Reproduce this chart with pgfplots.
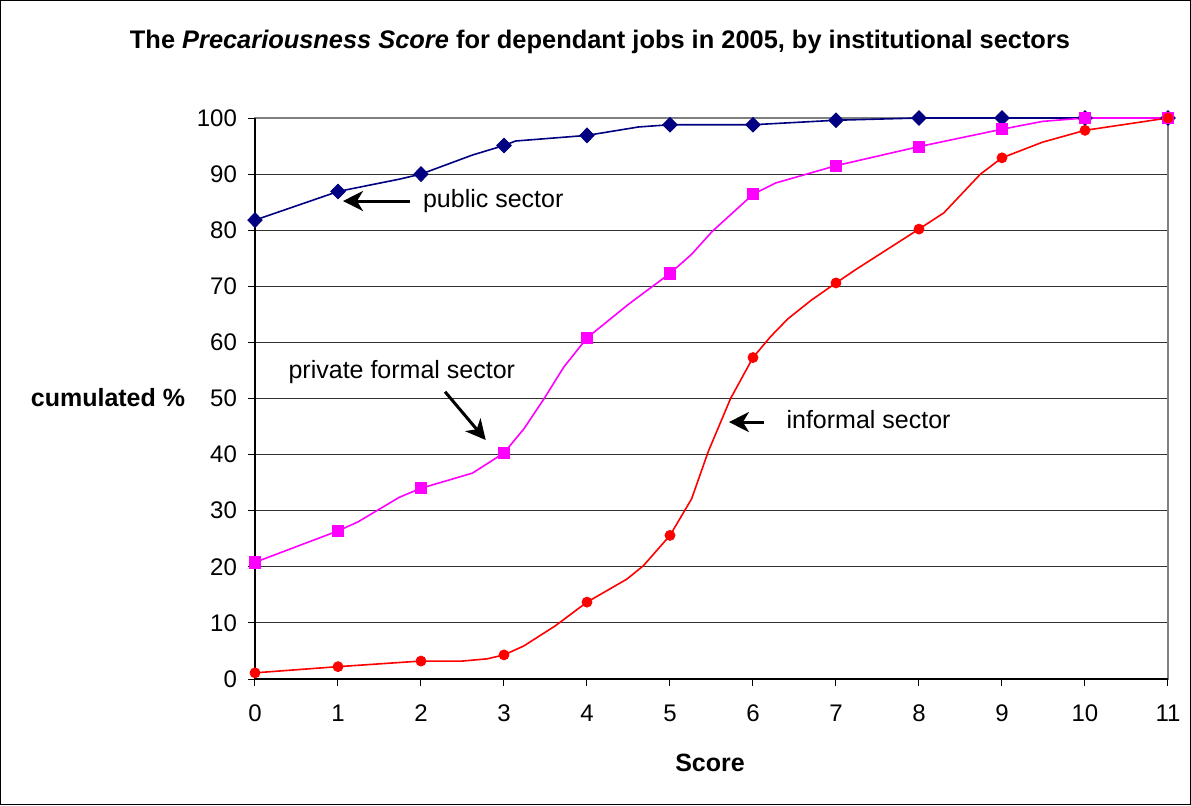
\documentclass[border=0pt]{standalone}
\usepackage{fontspec}
\setmainfont{Liberation Sans}
\usepackage{pgfplots}
\pgfplotsset{compat=1.18}
\usetikzlibrary{arrows.meta}
\definecolor{pubcol}{RGB}{0,0,128}
\definecolor{privcol}{RGB}{255,0,255}
\definecolor{infcol}{RGB}{255,0,0}
\begin{document}
\begin{tikzpicture}
\draw[black, line width=0.6pt] (-127.2pt,-62.7pt) rectangle (467.7pt,339.2pt);
\begin{axis}[
  at={(0pt,0pt)}, anchor=south west,
  scale only axis, width=456.5pt, height=280.5pt,
  xmin=0, xmax=11, ymin=0, ymax=100,
  xtick={0,...,11}, ytick={0,10,...,100},
  xtick pos=bottom, ytick pos=left,
  ymajorgrids, major grid style={black!80, line width=0.5pt},
  axis line style={gray, line width=0.7pt},
  tick style={black, line width=0.5pt}, tick align=outside, major tick length=3.5pt,
  ticklabel style={font=\fontsize{12}{14}\selectfont},
  xticklabel style={yshift=-6pt},
  yticklabel style={xshift=-2pt},
  /pgf/number format/assume math mode=true,
  clip=false,
]
% public sector
\addplot[pubcol, line width=0.8pt] coordinates {
 (0,81.8) (1,86.9) (1.74,89.1) (2,90.0) (2.62,93.4) (3,95.1) (3.14,95.9) (4,96.9) (4.62,98.4) (5,98.8) (6,98.8) (7,99.6) (8,100) (9,100) (10,100) (11,100)};
\addplot[only marks, mark=diamond*, mark size=3.7pt, color=pubcol, mark options={xscale=1.3}] coordinates {
 (0,81.8) (1,86.9) (2,90.0) (3,95.1) (4,96.9) (5,98.8) (6,98.8) (7,99.6) (8,100) (9,100) (10,100) (11,100)};
% private formal sector
\addplot[privcol, line width=0.8pt] coordinates {
 (0,20.8) (1,26.4) (1.24,28.0) (1.74,32.4) (2,34.0) (2.62,36.7) (3,40.3) (3.24,44.6) (3.48,49.9) (3.72,55.6) (4,60.8) (4.5,66.8) (5,72.3) (5.26,75.7) (5.51,79.8) (6,86.4) (6.27,88.4) (7,91.5) (8,94.9) (9,98.0) (9.49,99.4) (10,100) (11,100)};
\addplot[only marks, mark=square*, mark size=2.8pt, color=privcol] coordinates {
 (0,20.8) (1,26.4) (2,34.0) (3,40.3) (4,60.8) (5,72.3) (6,86.4) (7,91.5) (8,94.9) (9,98.0) (10,100) (11,100)};
% informal sector
\addplot[infcol, line width=0.8pt] coordinates {
 (0,1.1) (1,2.2) (2,3.2) (2.5,3.2) (2.8,3.6) (3,4.3) (3.24,5.9) (3.62,9.5) (4,13.7) (4.48,17.8) (4.68,20.2) (5,25.6) (5.26,32.1) (5.46,40.5) (5.73,50.0) (6,57.3) (6.21,61.0) (6.42,64.2) (6.7,67.5) (7,70.6) (7.25,73.1) (8,80.2) (8.3,83.1) (8.74,90.0) (9,92.9) (9.49,95.7) (10,97.8) (11,100)};
\addplot[only marks, mark=*, mark size=2.5pt, color=infcol] coordinates {
 (0,1.1) (1,2.2) (2,3.2) (3,4.3) (4,13.7) (5,25.6) (6,57.3) (7,70.6) (8,80.2) (9,92.9) (10,97.8) (11,100)};
% axis lines
\draw[black, line width=0.7pt] (axis cs:0,100) -- (axis cs:0,0) -- (axis cs:11,0);
% annotations
\draw[-{Stealth[length=10pt,width=10pt,inset=3pt]}, line width=1.5pt] (axis cs:1.87,85.2) -- (axis cs:1.06,85.2);
\node[anchor=west, font=\fontsize{12.5}{14}\selectfont, inner sep=0pt] at (axis cs:2.02,85.2) {public sector};
\node[anchor=west, font=\fontsize{12.5}{14}\selectfont, inner sep=0pt] at (axis cs:0.40,54.7) {private formal sector};
\draw[-{Stealth[length=10pt,width=10pt,inset=3pt]}, line width=1.5pt] (axis cs:2.29,51.2) -- (axis cs:2.78,42.6);
\node[anchor=west, font=\fontsize{12.5}{14}\selectfont, inner sep=0pt] at (axis cs:6.40,46.2) {informal sector};
\draw[-{Stealth[length=10pt,width=10pt,inset=3pt]}, line width=1.5pt] (axis cs:6.13,45.8) -- (axis cs:5.71,45.8);
\end{axis}
\node[font=\bfseries\fontsize{12.7}{14}\selectfont] at (172.5pt,318.5pt) {The \textit{Precariousness Score} for dependant jobs in 2005, by institutional sectors};
\node[font=\bfseries\fontsize{12.5}{14}\selectfont] at (-73.5pt,140.5pt) {cumulated \%};
\node[font=\bfseries\fontsize{12.5}{14}\selectfont] at (227.5pt,-42pt) {Score};
\end{tikzpicture}
\end{document}
